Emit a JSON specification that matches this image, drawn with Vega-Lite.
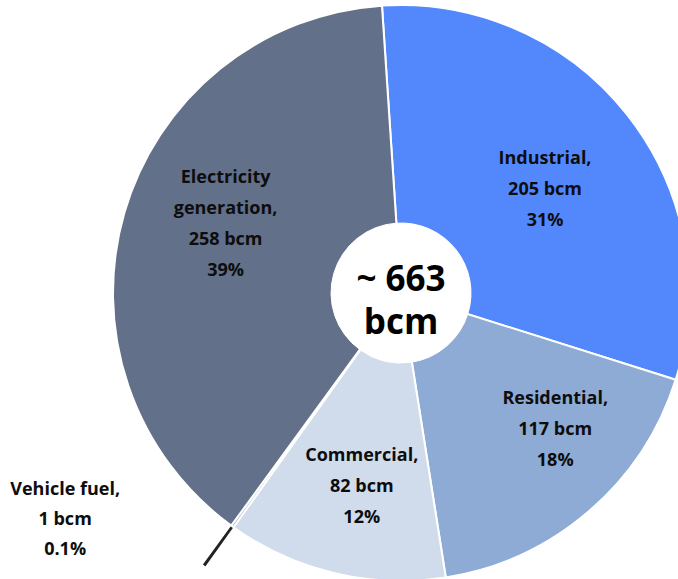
{
  "$schema": "https://vega.github.io/schema/vega-lite/v6.json",
  "width": 802,
  "height": 586,
  "autosize": {"type": "none"},
  "padding": 0,
  "background": "white",
  "view": {"stroke": null},
  "config": {
    "text": {"font": "Open Sans", "fontSize": 18, "fontWeight": "bold", "lineBreak": "\n", "lineHeight": 31, "baseline": "middle", "align": "center", "color": "#0d0d0d"}
  },
  "data": {
    "values": [
      {"category": "Industrial", "value": 205, "order": 1, "label": "Industrial,\n205 bcm\n31%"},
      {"category": "Residential", "value": 117, "order": 2, "label": "Residential,\n117 bcm\n18%"},
      {"category": "Commercial", "value": 82, "order": 3, "label": "Commercial,\n82 bcm\n12%"},
      {"category": "Vehicle fuel", "value": 1, "order": 4, "label": "Vehicle fuel,\n1 bcm\n0.1%"},
      {"category": "Electricity generation", "value": 258, "order": 5, "label": "Electricity\ngeneration,\n258 bcm\n39%"}
    ]
  },
  "encoding": {
    "theta": {"field": "value", "type": "quantitative", "stack": true, "scale": {"range": [-0.066, 6.217]}},
    "order": {"field": "order", "type": "quantitative"}
  },
  "layer": [
    {
      "mark": {"type": "arc", "outerRadius": 288, "stroke": "white", "strokeWidth": 2},
      "encoding": {
        "color": {
          "field": "category", "type": "nominal", "legend": null,
          "scale": {
            "domain": ["Industrial", "Residential", "Commercial", "Vehicle fuel", "Electricity generation"],
            "range": ["#5388FD", "#8DABD4", "#D0DCEC", "#9aa6bb", "#637089"]
          }
        }
      }
    },
    {
      "mark": {"type": "arc", "radius": 289, "radius2": 336, "color": "#222222"},
      "encoding": {
        "opacity": {"condition": {"test": "datum.category === 'Vehicle fuel'", "value": 1}, "value": 0}
      }
    },
    {
      "mark": {"type": "arc", "outerRadius": 70, "color": "white", "stroke": "white", "strokeWidth": 1}
    },
    {
      "mark": {"type": "text", "radius": 192, "dx": -7, "dy": -15},
      "encoding": {
        "text": {"field": "label", "type": "nominal"},
        "opacity": {"condition": {"test": "datum.category === 'Industrial'", "value": 1}, "value": 0}
      }
    },
    {
      "mark": {"type": "text", "radius": 192, "dx": 29, "dy": -40},
      "encoding": {
        "text": {"field": "label", "type": "nominal"},
        "opacity": {"condition": {"test": "datum.category === 'Residential'", "value": 1}, "value": 0}
      }
    },
    {
      "mark": {"type": "text", "radius": 192, "dx": 5, "dy": -24},
      "encoding": {
        "text": {"field": "label", "type": "nominal"},
        "opacity": {"condition": {"test": "datum.category === 'Commercial'", "value": 1}, "value": 0}
      }
    },
    {
      "mark": {"type": "text", "radius": 192, "dx": 9, "dy": -62},
      "encoding": {
        "text": {"field": "label", "type": "nominal"},
        "opacity": {"condition": {"test": "datum.category === 'Electricity generation'", "value": 1}, "value": 0}
      }
    },
    {
      "mark": {"type": "text", "radius": 290, "dx": -166, "dy": -38, "lineHeight": 30},
      "encoding": {
        "text": {"field": "label", "type": "nominal"},
        "opacity": {"condition": {"test": "datum.category === 'Vehicle fuel'", "value": 1}, "value": 0}
      }
    },
    {
      "data": {"values": [{"center": "~ 663\nbcm"}]},
      "mark": {"type": "text", "radius": 0, "dy": -13, "font": "Open Sans", "fontSize": 35, "fontWeight": "bold", "lineHeight": 43, "color": "#000000"},
      "encoding": {
        "text": {"field": "center", "type": "nominal"},
        "theta": null,
        "order": null
      }
    }
  ]
}
